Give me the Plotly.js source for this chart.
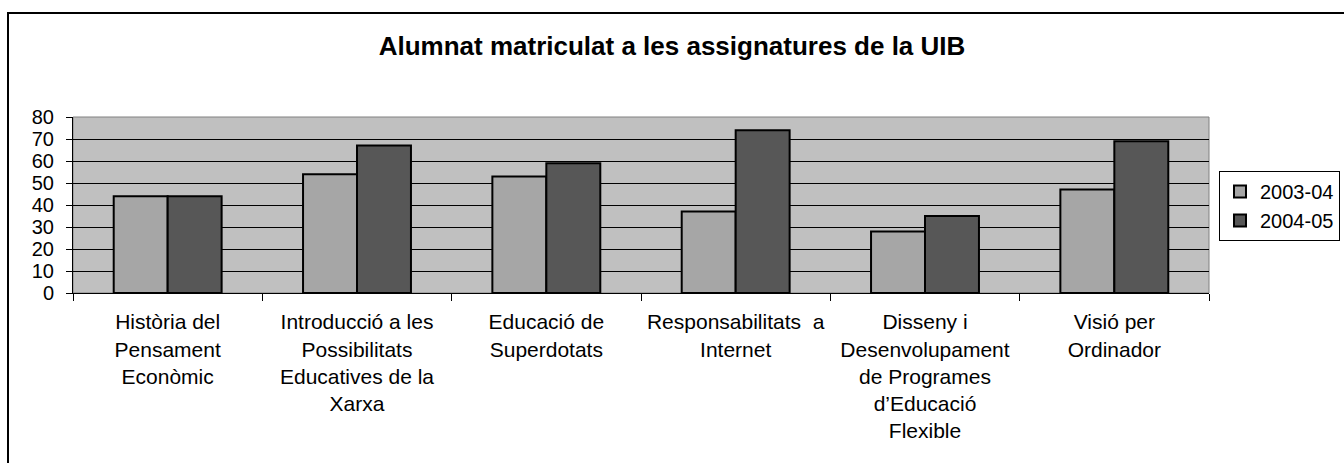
<!DOCTYPE html>
<html>
<head>
<meta charset="utf-8">
<script src="https://cdn.plot.ly/plotly-3.0.1.min.js"></script>
<style>html,body{margin:0;padding:0;background:#fff;overflow:hidden;}#chart{width:1344px;height:463px;}</style>
</head>
<body>
<div id="chart"></div>
<script>
const categories = [
  "Història del<br>Pensament<br>Econòmic",
  "Introducció a les<br>Possibilitats<br>Educatives de la<br>Xarxa",
  "Educació de<br>Superdotats",
  "Responsabilitats\u00A0 a<br>Internet",
  "Disseny i<br>Desenvolupament<br>de Programes<br>d\u2019Educació<br>Flexible",
  "Visió per<br>Ordinador"
];
const seriesNames = ["2003-04", "2004-05"];
const values2003 = [44, 54, 53, 37, 28, 47];
const values2004 = [44, 67, 59, 74, 35, 69];
const seriesColors = ["#A6A6A6", "#575757"];
const yTicks = [0, 10, 20, 30, 40, 50, 60, 70, 80];

const W = 1344, H = 463;
const plotL = 73, plotR = 1209, plotT = 117, plotB = 293;
const pw = plotR - plotL, ph = plotB - plotT;

const font = "Arial, 'Liberation Sans', sans-serif";

const traces = [values2003, values2004].map((vals, i) => ({
  type: "bar",
  name: seriesNames[i],
  x: categories,
  y: vals,
  legendgroup: "g" + i,
  marker: {color: seriesColors[i], line: {color: "#000", width: 2}},
  hoverinfo: "x+y"
}));

const layout = {
  width: W, height: H,
  margin: {l: plotL, r: W - plotR, t: plotT, b: H - plotB, pad: 0, autoexpand: false},
  paper_bgcolor: "#fff",
  plot_bgcolor: "#C0C0C0",
  barmode: "group",
  bargap: 0.43,
  bargroupgap: 0,
  font: {family: font, color: "#000", size: 20},
  title: {
    text: "<b>Alumnat matriculat a les assignatures de la UIB</b>",
    font: {family: font, size: 26, color: "#000"},
    x: 672 / W, xanchor: "center",
    y: 1 - 46 / H, yanchor: "middle",
    xref: "container", yref: "container",
    automargin: false
  },
  xaxis: {
    type: "category",
    showline: true, linecolor: "#000", linewidth: 1,
    ticks: "outside", tickson: "boundaries", ticklen: 7, tickcolor: "#000", tickwidth: 1,
    tickfont: {family: font, size: 21, color: "#000"},
    ticklabelstandoff: 10,
    showgrid: false, zeroline: false,
    tickangle: 0, automargin: false, fixedrange: true
  },
  yaxis: {
    range: [0, 80],
    tickvals: yTicks,
    ticktext: yTicks.map(String),
    showline: true, linecolor: "#000", linewidth: 1,
    ticks: "outside", ticklen: 6, tickcolor: "#000", tickwidth: 1,
    tickfont: {family: font, size: 20, color: "#000"},
    ticklabelstandoff: 8,
    showgrid: true, gridcolor: "#000", gridwidth: 1,
    zeroline: false, automargin: false, fixedrange: true
  },
  legend: {
    x: (1219 - plotL) / pw, xanchor: "left",
    y: (plotB - 171) / ph, yanchor: "top",
    bgcolor: "#fff", bordercolor: "#000", borderwidth: 1,
    font: {family: font, size: 20, color: "#000"},
    tracegroupgap: 6,
    traceorder: "normal"
  },
  showlegend: true,
  shapes: [
    {type: "rect", xref: "paper", yref: "paper", x0: 0, x1: 1, y0: 0, y1: 1,
     line: {color: "#808080", width: 1}, fillcolor: "rgba(0,0,0,0)", layer: "below"},
    {type: "rect", xref: "paper", yref: "paper",
     x0: (8 - plotL) / pw, x1: 1.5, y0: -2, y1: (plotB - 13) / ph,
     line: {color: "#000", width: 2}, fillcolor: "rgba(0,0,0,0)"}
  ]
};

Plotly.newPlot("chart", traces, layout, {displayModeBar: false, staticPlot: true});
</script>
</body>
</html>
